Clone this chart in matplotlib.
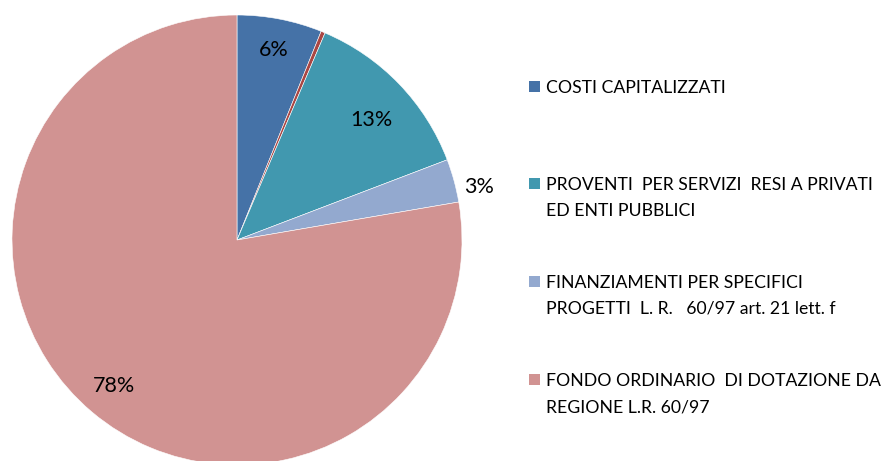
import numpy as np
import matplotlib.pyplot as plt
from matplotlib.patches import Rectangle

# ---------- data ----------
LABELS = [
    "COSTI CAPITALIZZATI",
    "",
    "PROVENTI  PER SERVIZI  RESI A PRIVATI\nED ENTI PUBBLICI",
    "FINANZIAMENTI PER SPECIFICI\nPROGETTI  L. R.   60/97 art. 21 lett. f",
    "FONDO ORDINARIO  DI DOTAZIONE DA\nREGIONE L.R. 60/97",
]
VALUES = [6.1, 0.3, 12.8, 3.1, 77.7]
PCT_TEXT = ["6%", "", "13%", "3%", "78%"]
COLORS = ["#4572A7", "#AA4643", "#4198AF", "#93A9CF", "#D19392"]

# label placement: distance from centre and small angle nudge (deg)
LABEL_DIST = [0.86, 0, 0.80, 1.10, 0.85]
LABEL_NUDGE = [0, 0, -2, -3, 0]

plt.rcParams['font.family'] = ['Lato', 'DejaVu Sans']

fig = plt.figure(figsize=(8.85, 4.61), dpi=100)
ax = fig.add_axes([12 / 885, -4 / 461, 450 / 885, 450 / 461])

wedges, _ = ax.pie(VALUES, colors=COLORS, startangle=90, counterclock=False,
                   radius=1.0, wedgeprops=dict(linewidth=0.4, edgecolor='white'))
ax.set_xlim(-1, 1)
ax.set_ylim(-1, 1)
ax.set_aspect('equal')
ax.axis('off')

# percent labels
for w, txt, d, nd in zip(wedges, PCT_TEXT, LABEL_DIST, LABEL_NUDGE):
    if not txt:
        continue
    ang = np.deg2rad((w.theta1 + w.theta2) / 2 + nd)
    ax.text(d * np.cos(ang), d * np.sin(ang), txt, ha='center', va='center',
            fontsize=15.5, color='black')

# legend (manual, Excel style)
LEG_BASE = [93, 190, 288, 386]
LINE_GAP = 26
leg_items = [(l, c) for l, c in zip(LABELS, COLORS) if l]
for (lab, col), yb in zip(leg_items, LEG_BASE):
    fig.patches.append(Rectangle((529 / 885, 1 - (yb - 1) / 461), 11 / 885, 11 / 461,
                                 transform=fig.transFigure, facecolor=col,
                                 edgecolor='none'))
    for i, line in enumerate(lab.split("\n")):
        fig.text(546 / 885, 1 - (yb + i * LINE_GAP) / 461, line, ha='left',
                 va='baseline', fontsize=12.7, color='black')

fig.savefig("out.png", dpi=100, facecolor='white')
